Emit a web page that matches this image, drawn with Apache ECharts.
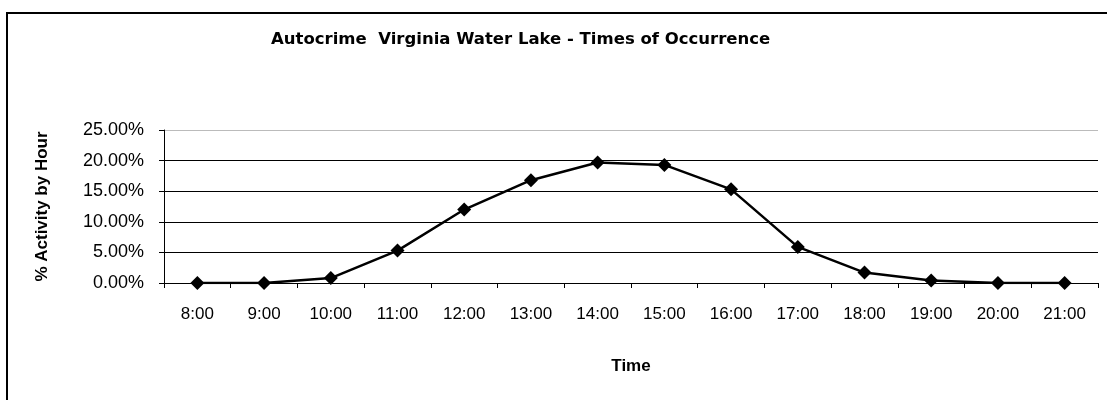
<!DOCTYPE html>
<html>
<head>
<meta charset="utf-8">
<script src="https://cdn.jsdelivr.net/npm/echarts@6/dist/echarts.min.js"></script>
<style>
  html, body { margin: 0; padding: 0; background: #fff; }
  #frame {
    position: absolute; left: 6px; top: 12px; width: 1110px; height: 400px;
    border-top: 2px solid #000; border-left: 2px solid #000;
  }
  #chart { position: absolute; left: 0; top: 0; width: 1107px; height: 400px; }
</style>
</head>
<body>
<div id="frame"></div>
<div id="chart"></div>
<script>
// hours of the day
const hours = ['8:00', '9:00', '10:00', '11:00', '12:00', '13:00', '14:00',
  '15:00', '16:00', '17:00', '18:00', '19:00', '20:00', '21:00'];
// % activity per hour
const activity = [0, 0, 0.8, 5.3, 12.0, 16.8, 19.7, 19.3, 15.3, 5.9, 1.7, 0.4, 0, 0];
const yTicks = [0, 5, 10, 15, 20, 25];

const chart = echarts.init(document.getElementById('chart'));
chart.setOption({
  animation: false,
  textStyle: { fontFamily: 'Liberation Sans', color: '#000' },
  title: {
    text: 'Autocrime  Virginia Water Lake - Times of Occurrence',
    left: 266,
    top: 26,
    textStyle: { fontFamily: 'DejaVu Sans', fontWeight: 'bold', fontSize: 16.5, color: '#000' }
  },
  grid: { left: 164, right: 9, top: 130, bottom: 117 },
  xAxis: {
    type: 'category',
    data: hours,
    boundaryGap: true,
    name: 'Time',
    nameLocation: 'middle',
    nameGap: 75,
    nameTextStyle: { fontWeight: 'bold', fontSize: 17, color: '#000' },
    axisLine: { lineStyle: { color: '#000', width: 1 } },
    axisTick: { show: true, length: 5, inside: false, lineStyle: { color: '#000' } },
    axisLabel: { fontSize: 17, color: '#000', margin: 23 }
  },
  yAxis: {
    type: 'value',
    min: yTicks[0],
    max: yTicks[yTicks.length - 1],
    interval: 5,
    name: '% Activity by Hour',
    nameLocation: 'middle',
    nameGap: 113,
    nameRotate: 90,
    nameTextStyle: { fontWeight: 'bold', fontSize: 17, color: '#000' },
    axisLine: { show: true, lineStyle: { color: '#000', width: 1 } },
    axisTick: { show: true, length: 5, lineStyle: { color: '#000' } },
    axisLabel: {
      fontSize: 18, color: '#000', margin: 20,
      formatter: v => v.toFixed(2) + '%'
    },
    splitLine: {
      show: true,
      lineStyle: { color: ['#000', '#000', '#000', '#000', '#000', '#bbb'], width: 1 }
    }
  },
  series: [{
    type: 'line',
    data: activity,
    symbol: 'diamond',
    symbolSize: 14,
    itemStyle: { color: '#000' },
    lineStyle: { color: '#000', width: 2.5 }
  }]
});
</script>
</body>
</html>
